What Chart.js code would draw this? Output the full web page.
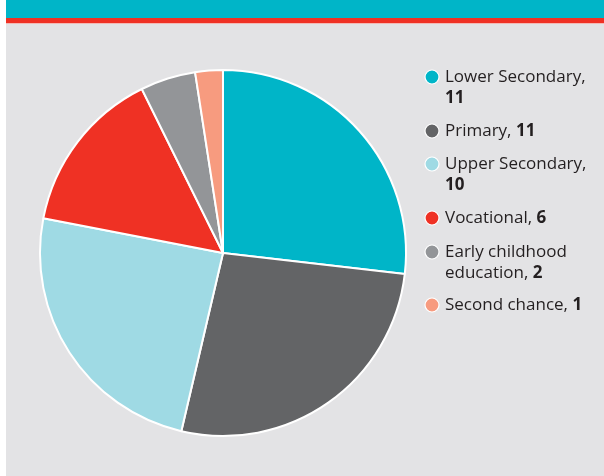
<!DOCTYPE html>
<html>
<head>
<meta charset="utf-8">
<script src="https://cdn.jsdelivr.net/npm/chart.js@4"></script>
<style>
  html, body { margin: 0; padding: 0; background: #ffffff; }
  .frame { position: relative; width: 604px; height: 476px; overflow: hidden; }
  .panel { position: absolute; left: 6px; top: 0; width: 598px; height: 476px; background: #e3e3e5; }
  .banner { position: absolute; left: 6px; top: 0; width: 598px; height: 18px; background: #00b5c8; }
  .stripe { position: absolute; left: 6px; top: 18px; width: 598px; height: 5px; background: #ef3124; border-bottom: 1px solid #f3b9b5; }
  canvas { position: absolute; left: 0; top: 0; }
</style>
</head>
<body>
<div class="frame">
  <div class="panel"></div>
  <div class="banner"></div>
  <div class="stripe"></div>
  <canvas id="pie" width="604" height="476"></canvas>
</div>
<script>
// levels of education and number of programmes
const labels = ['Lower Secondary', 'Primary', 'Upper Secondary', 'Vocational', 'Early childhood education', 'Second chance'];
const counts = [11, 11, 10, 6, 2, 1];
const colors = ['#00b5c8', '#636466', '#9fdae4', '#ef3124', '#939598', '#f79b7f'];
// how each legend entry is wrapped
const legendLines = [['Lower Secondary,', ''], ['Primary, '], ['Upper Secondary,', ''], ['Vocational, '], ['Early childhood', 'education, '], ['Second chance, ']];

// legend on the right: dot + text, number in bold
const sideLegend = {
  id: 'sideLegend',
  afterDraw(chart) {
    const ctx = chart.ctx;
    const x0 = 432, tx = 445, lh = 21.5;
    const tops = [77, 131, 164, 218, 252, 305];
    ctx.save();
    ctx.textBaseline = 'middle';
    labels.forEach((lab, i) => {
      const y = tops[i];
      ctx.beginPath();
      ctx.arc(x0, y, 7, 0, Math.PI * 2);
      ctx.fillStyle = colors[i];
      ctx.fill();
      ctx.lineWidth = 1.2;
      ctx.strokeStyle = '#ffffff';
      ctx.stroke();
      const lines = legendLines[i];
      lines.forEach((ln, j) => {
        const ly = y + j * lh;
        ctx.font = '17px "Open Sans"';
        ctx.fillStyle = '#231f20';
        ctx.fillText(ln, tx, ly);
        if (j === lines.length - 1) {
          const w = ctx.measureText(ln).width;
          ctx.font = 'bold 17px "Open Sans"';
          ctx.fillText(String(counts[i]), tx + w, ly);
        }
      });
    });
    ctx.restore();
  }
};

new Chart(document.getElementById('pie'), {
  type: 'pie',
  data: {
    labels: labels,
    datasets: [{
      data: counts,
      backgroundColor: colors,
      borderColor: '#ffffff',
      borderWidth: 2
    }]
  },
  options: {
    responsive: false,
    animation: false,
    layout: { padding: { left: 39, top: 69, right: 197, bottom: 39 } },
    plugins: {
      legend: { display: false },
      tooltip: { enabled: false }
    }
  },
  plugins: [sideLegend]
});
</script>
</body>
</html>
